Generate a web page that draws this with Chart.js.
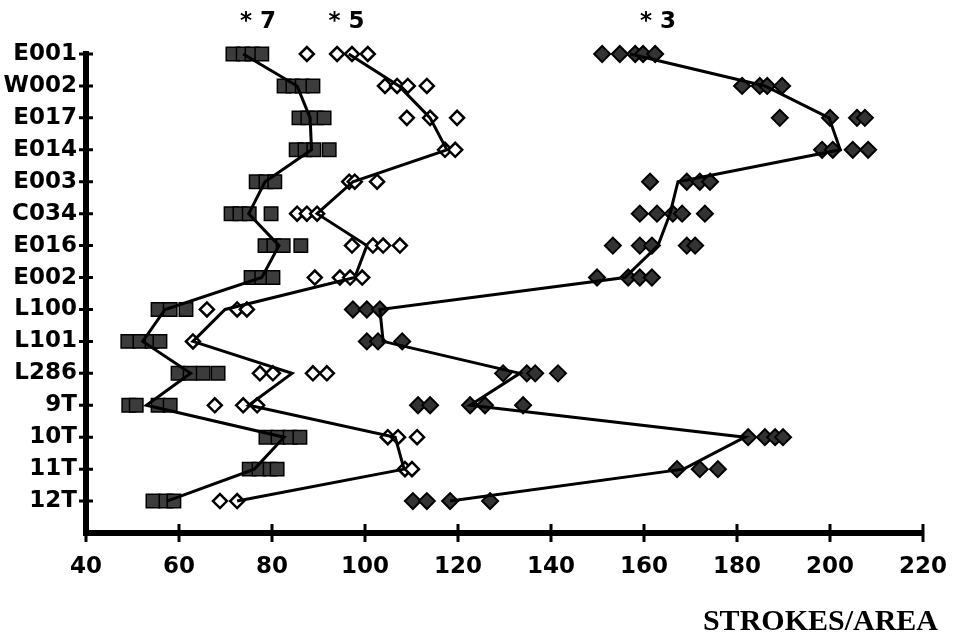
<!DOCTYPE html>
<html>
<head>
<meta charset="utf-8">
<title>Strokes / area</title>
<script src="https://cdn.jsdelivr.net/npm/chart.js@4.4.1/dist/chart.umd.min.js"></script>
<style>
  html, body { margin: 0; padding: 0; background: #fff; }
</style>
</head>
<body>
<canvas id="chart" width="953" height="640"></canvas>
<script>
  // rows, top to bottom
  const categories = ['E001', 'W002', 'E017', 'E014', 'E003', 'C034', 'E016', 'E002',
                      'L100', 'L101', 'L286', '9T', '10T', '11T', '12T'];

  // sample #7 (squares): single readings per row, and the connecting line
  const sample7 = [
    [71.6, 73.8, 75.7, 77.8], [82.6, 84.5, 86.5, 88.8], [85.8, 87.7, 89.5, 91.2],
    [85.2, 87.1, 89.0, 92.3], [76.6, 78.7, 80.6], [71.2, 73.1, 75.1, 79.8],
    [78.5, 80.4, 82.4, 86.2], [75.5, 77.8, 80.2], [55.5, 58.1, 61.5],
    [49.0, 51.6, 54.2, 55.9], [59.8, 62.4, 65.2, 68.4], [49.2, 50.8, 55.5, 58.1],
    [78.7, 81.3, 83.9, 86.0], [75.1, 77.2, 79.6, 81.1], [54.4, 57.2, 58.9]
  ];
  const line7 = [73.8, 85.4, 88.2, 88.5, 78.5, 75.0, 81.5, 77.8, 57.0, 52.2, 62.5, 53.0, 82.6, 76.2, 57.4];

  // sample #5 (open diamonds)
  const sample5 = [
    [87.5, 94.0, 97.2, 100.6], [104.3, 106.9, 109.2, 113.3], [109.0, 114.0, 119.8],
    [117.2, 119.4], [96.6, 97.8, 102.6], [85.4, 87.5, 89.7],
    [97.2, 101.7, 103.9, 107.5], [89.2, 94.6, 96.8, 99.4], [66.0, 72.5, 74.6],
    [63.0], [77.4, 80.2, 88.8, 91.8], [67.7, 73.8, 76.8],
    [104.9, 107.1, 111.2], [108.6, 110.1], [68.8, 72.5]
  ];
  const line5 = [96.5, 107.3, 114.0, 117.6, 97.4, 89.7, 100.4, 97.8, 69.9, 63.0, 84.3, 75.0, 106.5, 108.4, 72.5];

  // sample #3 (filled diamonds)
  const sample3 = [
    [151.0, 154.8, 158.1, 159.8, 162.4], [181.1, 184.9, 186.5, 189.7],
    [189.2, 200.0, 205.8, 207.5], [198.3, 200.6, 204.9, 208.2],
    [161.3, 169.2, 172.0, 174.2], [159.1, 162.8, 166.2, 168.2, 173.1],
    [153.3, 159.1, 161.7, 169.2, 171.0], [149.9, 156.6, 159.1, 161.7],
    [97.4, 100.4, 103.2], [100.4, 102.8, 108.0], [129.7, 134.8, 136.6, 141.5],
    [111.4, 114.0, 122.6, 125.8, 134.0], [182.4, 186.0, 188.2, 189.9],
    [167.1, 172.0, 175.9], [110.3, 113.3, 118.3, 126.9]
  ];
  const line3 = [157.0, 186.0, 199.8, 202.2, 167.3, 165.6, 163.0, 155.9, 103.2, 103.9, 133.3, 122.6, 181.7, 168.5, 118.3];

  const seriesNames = ['* 7', '* 5', '* 3'];
  const seriesNameAt = [77, 96, 163];   // x value each name is centred on
  const xTicks = [40, 60, 80, 100, 120, 140, 160, 180, 200, 220];
  const axisTitle = 'STROKES/AREA';

  function toPoints(rows) {
    const pts = [];
    rows.forEach((vals, i) => vals.forEach(v => pts.push({ x: v, y: i })));
    return pts;
  }
  function toLine(vals) {
    return vals.map((v, i) => ({ x: v, y: i }));
  }

  const tickFont = { family: 'DejaVu Sans', weight: 'bold', size: 23 };

  // cross-shaped tick marks on both axes
  const crossTicks = {
    id: 'crossTicks',
    afterDraw(chart) {
      const { ctx, scales: { x, y } } = chart;
      ctx.save();
      ctx.strokeStyle = '#000';
      ctx.lineWidth = 3;
      ctx.beginPath();
      xTicks.forEach(v => {
        const px = x.getPixelForValue(v);
        ctx.moveTo(px, x.top - 9);
        ctx.lineTo(px, x.top + 9);
      });
      categories.forEach((c, i) => {
        const py = y.getPixelForValue(i);
        ctx.moveTo(y.right - 7, py);
        ctx.lineTo(y.right + 7, py);
      });
      ctx.stroke();
      ctx.restore();
    }
  };

  // "* 7", "* 5", "* 3" above each group, and the axis title
  const labelsPlugin = {
    id: 'seriesLabels',
    afterDraw(chart) {
      const { ctx, scales: { x, y }, chartArea } = chart;
      ctx.save();
      ctx.fillStyle = '#000';
      ctx.font = 'bold 23px "DejaVu Sans"';
      ctx.textAlign = 'center';
      ctx.textBaseline = 'middle';
      seriesNames.forEach((s, i) => {
        ctx.fillText(s, x.getPixelForValue(seriesNameAt[i]), y.getPixelForValue(-1));
      });
      ctx.font = 'bold 30px "Liberation Serif"';
      ctx.textAlign = 'right';
      ctx.textBaseline = 'alphabetic';
      ctx.fillText(axisTitle, chartArea.right + 15, 630);
      ctx.restore();
    }
  };

  new Chart(document.getElementById('chart'), {
    type: 'scatter',
    data: {
      datasets: [
        { data: toLine(line7), showLine: true, borderColor: '#000', borderWidth: 3, pointRadius: 0, order: 0, clip: false },
        { data: toLine(line5), showLine: true, borderColor: '#000', borderWidth: 3, pointRadius: 0, order: 0, clip: false },
        { data: toLine(line3), showLine: true, borderColor: '#000', borderWidth: 3, pointRadius: 0, order: 0, clip: false },
        { data: toPoints(sample7), pointStyle: 'rect', pointRadius: 9.5, backgroundColor: '#3c3c3c',
          borderColor: '#000', borderWidth: 1.5, order: 1, clip: false },
        { data: toPoints(sample5), pointStyle: 'rectRot', pointRadius: 7, backgroundColor: '#fff',
          borderColor: '#000', borderWidth: 2.5, order: 1, clip: false },
        { data: toPoints(sample3), pointStyle: 'rectRot', pointRadius: 8, backgroundColor: '#333',
          borderColor: '#000', borderWidth: 2, order: 1, clip: false }
      ]
    },
    options: {
      responsive: false,
      animation: false,
      layout: { padding: { left: 0, right: 30, top: 54, bottom: 0 } },
      plugins: { legend: { display: false }, tooltip: { enabled: false } },
      elements: { point: { hoverRadius: 0 } },
      scales: {
        x: {
          type: 'linear', min: 40, max: 220,
          grid: { display: false, drawTicks: false },
          border: { display: true, width: 6, color: '#000' },
          ticks: { stepSize: 20, color: '#000', font: tickFont, padding: 20, maxRotation: 0 },
          afterFit(scale) {
            scale.height = 107;
            scale.paddingRight = 0;   // the layout padding already leaves room for "220"
            scale.paddingLeft = 0;
          }
        },
        y: {
          type: 'linear', min: 0, max: 15, reverse: true,
          grid: { display: false, drawTicks: false },
          border: { display: true, width: 6, color: '#000' },
          ticks: {
            stepSize: 1, autoSkip: false, color: '#000', font: tickFont, padding: 9,
            callback: v => categories[v] || ''
          },
          afterFit(scale) { scale.width = 86; }
        }
      }
    },
    plugins: [crossTicks, labelsPlugin]
  });
</script>
</body>
</html>
